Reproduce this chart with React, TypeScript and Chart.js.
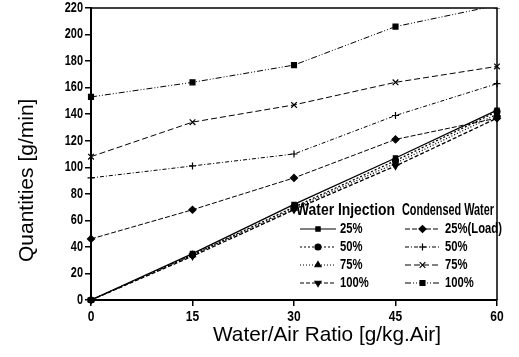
import React, { useEffect, useRef } from "react";
import { Chart, registerables } from "chart.js";
import { drawPoint } from "chart.js/helpers";
Chart.register(...registerables);

const ratios = [0, 15, 30, 45, 60];
const wi25 = [0, 35, 72, 107, 143];
const wi50 = [0, 34, 70, 105, 142];
const wi75 = [0, 34, 69, 103, 140];
const wi100 = [0, 33, 68, 101, 137];
const cw25 = [46, 68, 92, 121, 137];
const cw50 = [92, 101, 110, 139, 163];
const cw75 = [108, 134, 147, 164, 176];
const cw100 = [153, 164, 177, 206, 222];
const yTicks = [0, 20, 40, 60, 80, 100, 120, 140, 160, 180, 200, 220];
const xTicks = [0, 15, 30, 45, 60];
const xTitle = "Water/Air Ratio [g/kg.Air]";
const yTitle = "Quantities [g/min]";
const groupTitles = ["Water Injection", "Condensed Water"];

const FONT = "'Liberation Sans', Arial, sans-serif";

type S = { label: string; group: number; data: number[]; style: any; dash: number[]; rot?: number; radius: number };
const series: S[] = [
  { label: "25%", group: 0, data: wi25, style: "rect", dash: [], radius: 3 },
  { label: "50%", group: 0, data: wi50, style: "circle", dash: [2, 2], radius: 3 },
  { label: "75%", group: 0, data: wi75, style: "triangle", dash: [1, 2], radius: 3.5 },
  { label: "100%", group: 0, data: wi100, style: "triangle", dash: [4, 2], rot: 180, radius: 3.5 },
  { label: "25%(Load)", group: 1, data: cw25, style: "rectRot", dash: [5, 2], radius: 3.5 },
  { label: "50%", group: 1, data: cw50, style: "cross", dash: [4, 2, 1, 2], radius: 3.5 },
  { label: "75%", group: 1, data: cw75, style: "crossRot", dash: [6, 3], radius: 4 },
  { label: "100%", group: 1, data: cw100, style: "rect", dash: [6, 2, 1, 2, 1, 2], radius: 3.5 },
];

function drawPointFn(ctx: any, s: S, x: number, y: number) {
  ctx.fillStyle = "#000";
  ctx.strokeStyle = "#000";
  ctx.lineWidth = 1.2;
  drawPoint(ctx, { pointStyle: s.style, radius: s.radius, rotation: s.rot || 0, borderWidth: 1.2 } as any, x, y);
}

function narrowText(ctx: any, text: string, x: number, y: number, factor: number) {
  const w = ctx.measureText(text).width;
  ctx.fillText(text, x, y, w * factor);
}

const legendPlugin = {
  id: "customLegend",
  afterDraw(chart: any) {
    const ctx = chart.ctx;
    ctx.save();
    const a = chart.chartArea;
    ctx.strokeStyle = "#000";
    ctx.lineWidth = 1.5;
    ctx.setLineDash([]);
    ctx.beginPath();
    ctx.moveTo(a.left, a.top);
    ctx.lineTo(a.right, a.top);
    ctx.lineTo(a.right, a.bottom);
    ctx.stroke();

    ctx.fillStyle = "#000";
    ctx.textBaseline = "middle";

    // tick labels
    const xs = chart.scales.x;
    const ys = chart.scales.y;
    ctx.font = `bold 15px ${FONT}`;
    ctx.textAlign = "center";
    xTicks.forEach((v) => narrowText(ctx, String(v), xs.getPixelForValue(v), 317, 0.8));
    ctx.font = `bold 14px ${FONT}`;
    ctx.textAlign = "right";
    yTicks.forEach((v) => narrowText(ctx, String(v), 83, ys.getPixelForValue(v), 0.78));

    // axis titles
    ctx.textAlign = "left";
    ctx.font = `21px ${FONT}`;
    ctx.fillText(xTitle, 213, 335, 228);
    ctx.save();
    ctx.translate(27, 262);
    ctx.rotate(-Math.PI / 2);
    ctx.fillText(yTitle, 0, 0, 168);
    ctx.restore();

    ctx.font = `bold 16px ${FONT}`;
    ctx.fillText(groupTitles[0], 296, 211, 99);
    ctx.fillText(groupTitles[1], 402, 211, 92);
    const rowsY = [229, 247, 265, 283];
    const cols = [
      { x0: 300, x1: 336, tx: 340 },
      { x0: 405, x1: 440, tx: 445 },
    ];
    series.forEach((s) => {
      const idx = series.filter((t) => t.group === s.group).indexOf(s);
      const c = cols[s.group];
      const y = rowsY[idx];
      ctx.strokeStyle = "#000";
      ctx.lineWidth = 1;
      ctx.setLineDash(s.dash);
      ctx.beginPath();
      ctx.moveTo(c.x0, y);
      ctx.lineTo(c.x1, y);
      ctx.stroke();
      ctx.setLineDash([]);
      drawPointFn(ctx, s, (c.x0 + c.x1) / 2, y);
      ctx.fillStyle = "#000";
      ctx.font = `bold 15px ${FONT}`;
      narrowText(ctx, s.label, c.tx, y, 0.75);
    });
    ctx.restore();
  },
};

export default function App() {
  const ref = useRef<HTMLCanvasElement>(null);
  useEffect(() => {
    const chart = new Chart(ref.current!, {
      type: "line",
      data: {
        datasets: series.map((s, k) => ({
          label: s.label,
          data: ratios.map((r, i) => ({ x: r, y: s.data[i] })),
          borderColor: "#000",
          backgroundColor: "#000",
          borderWidth: s.group === 0 ? 1.3 : 1,
          borderDash: s.dash,
          pointStyle: s.style,
          pointRotation: s.rot || 0,
          pointRadius: s.radius,
          pointBorderWidth: 1.2,
          pointBackgroundColor: "#000",
          pointBorderColor: "#000",
          tension: 0,
          clip: (k === 7 ? { left: 10, top: 0, right: 10, bottom: 10 } : false) as any,
        })),
      },
      options: {
        animation: false,
        responsive: true,
        maintainAspectRatio: false,
        layout: { padding: { left: 0, right: 22, top: 8, bottom: 0 } },
        plugins: { legend: { display: false }, tooltip: { enabled: false } },
        scales: {
          x: {
            type: "linear",
            min: 0,
            max: 60,
            afterBuildTicks: (ax: any) => {
              ax.ticks = xTicks.map((v) => ({ value: v }));
            },
            ticks: { display: false },
            grid: { drawOnChartArea: false, tickLength: 6, color: "#000", lineWidth: 1.5 },
            border: { color: "#000", width: 2 },
            title: { display: false },
            afterFit: (ax: any) => {
              ax.height = 57;
            },
          },
          y: {
            min: 0,
            max: 220,
            afterBuildTicks: (ax: any) => {
              ax.ticks = yTicks.map((v) => ({ value: v }));
            },
            ticks: { display: false },
            grid: { drawOnChartArea: false, tickLength: 6, color: "#000", lineWidth: 1.5 },
            border: { color: "#000", width: 2 },
            title: { display: false },
            afterFit: (ax: any) => {
              ax.width = 91;
            },
          },
        },
      },
      plugins: [legendPlugin],
    });
    return () => chart.destroy();
  }, []);
  return (
    <div style={{ position: "fixed", left: 0, top: 0, width: 519, height: 357, background: "#fff" }}>
      <canvas ref={ref} />
    </div>
  );
}
